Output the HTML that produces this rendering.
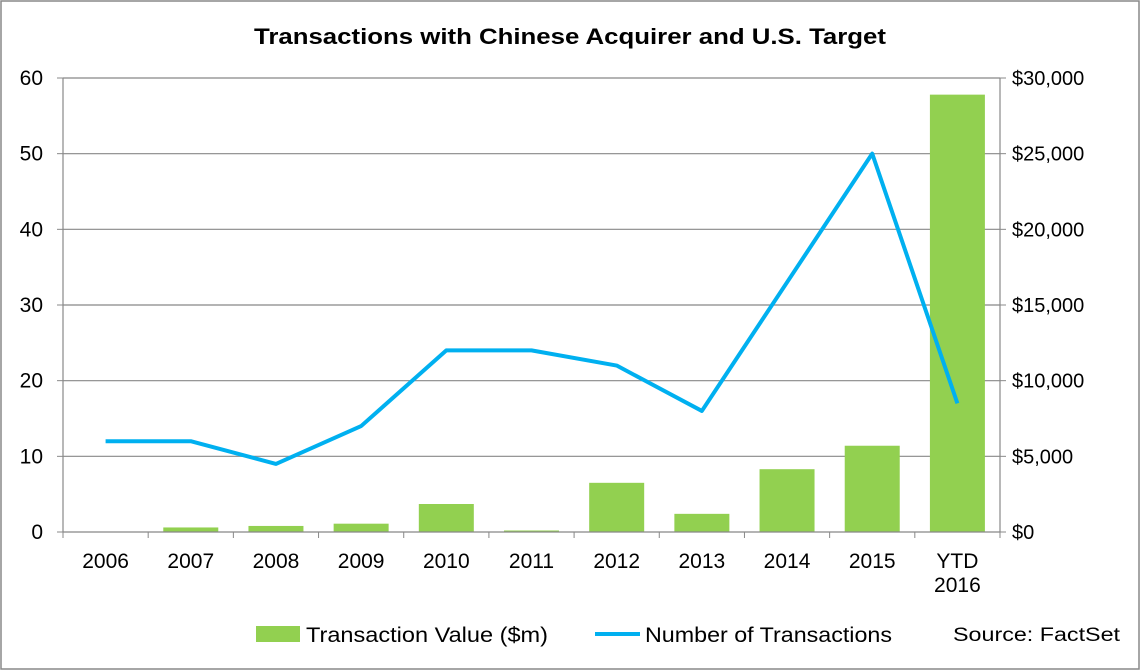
<!DOCTYPE html>
<html><head><meta charset="utf-8"><style>
body{margin:0;background:#fff;}
svg{display:block;font-family:"Liberation Sans",Arial,sans-serif;}
</style></head><body>
<svg width="1141" height="671">
<rect x="1" y="1" width="1138" height="668" fill="#fff" stroke="#888" stroke-width="1.5"/>
<text x="570" y="44" text-anchor="middle" font-size="22" font-weight="bold" fill="#000" textLength="632" lengthAdjust="spacingAndGlyphs">Transactions with Chinese Acquirer and U.S. Target</text>
<g id="grid"></g><g id="bars"></g><g id="line"></g><g id="axes"></g>
<g>
<rect x="256" y="626" width="44" height="16" fill="#92d050"/>
<text x="306" y="642" font-size="21" textLength="242" lengthAdjust="spacingAndGlyphs">Transaction Value ($m)</text>
<line x1="595" y1="634" x2="640" y2="634" stroke="#00b0f0" stroke-width="4"/>
<text x="645" y="642" font-size="21" textLength="247" lengthAdjust="spacingAndGlyphs">Number of Transactions</text>
</g>
<text x="953" y="641" font-size="19" textLength="167" lengthAdjust="spacingAndGlyphs">Source: FactSet</text>
</svg>
<script>
const categories=["2006","2007","2008","2009","2010","2011","2012","2013","2014","2015","YTD|2016"];
const values=[0,300,400,550,1850,100,3250,1200,4150,5700,28900];
const counts=[12,12,9,14,24,24,22,16,33,50,17];
const leftTicks=[0,10,20,30,40,50,60];
const rightTicks=["$0","$5,000","$10,000","$15,000","$20,000","$25,000","$30,000"];
const NS="http://www.w3.org/2000/svg";
const X0=63,X1=1000,Y0=532,Y1=78;
const bw=(X1-X0)/categories.length;
const xc=i=>X0+bw*(i+0.5);
const yL=v=>Y0-(v/60)*(Y0-Y1);
const yR=v=>Y0-(v/30000)*(Y0-Y1);
function mk(t,a,p){const e=document.createElementNS(NS,t);for(const k in a)e.setAttribute(k,a[k]);p.appendChild(e);return e;}
const grid=document.getElementById('grid'),bars=document.getElementById('bars'),line=document.getElementById('line'),axes=document.getElementById('axes');
leftTicks.forEach((v,i)=>{
  const y=yL(v);
  if(v>0){const g=mk('line',{x1:X0,x2:X1,y1:y,y2:y,stroke:'#888','stroke-width':1.2},grid);
  
  }
  const t=mk('text',{x:43,y:y+7,'text-anchor':'end','font-size':21},axes);t.textContent=v;
  
  
  const r=mk('text',{x:1012,y:y+7,'font-size':20},axes);r.textContent=rightTicks[i];
  
  
});
values.forEach((v,i)=>{
  const y=yR(v);
  const b=mk('rect',{x:xc(i)-27.5,y:y,width:55,height:Y0-y,fill:'#92d050'},bars);
  
  
});
const pl=mk('polyline',{points:counts.map((c,i)=>xc(i)+','+yL(c)).join(' '),fill:'none',stroke:'#00b0f0','stroke-width':4,'stroke-linejoin':'round'},line);


[[X0,Y1,X0,Y0],[X1,Y1,X1,Y0],[X0,Y0,X1,Y0]].forEach(a=>{const l=mk('line',{x1:a[0],y1:a[1],x2:a[2],y2:a[3],stroke:'#888','stroke-width':1.2},axes);
  
  });
leftTicks.forEach(v=>{const y=yL(v);mk('line',{x1:X0-6,x2:X0,y1:y,y2:y,stroke:'#888'},axes);mk('line',{x1:X1,x2:X1+6,y1:y,y2:y,stroke:'#888'},axes);});
for(let i=0;i<=categories.length;i++){mk('line',{x1:X0+bw*i,x2:X0+bw*i,y1:Y0,y2:Y0+6,stroke:'#888'},axes);}
categories.forEach((c,i)=>{
  c.split('|').forEach((s,j)=>{
    const t=mk('text',{x:xc(i),y:568+j*24,'text-anchor':'middle','font-size':21},axes);t.textContent=s;
    
    
  });
});
</script>
</body></html>
